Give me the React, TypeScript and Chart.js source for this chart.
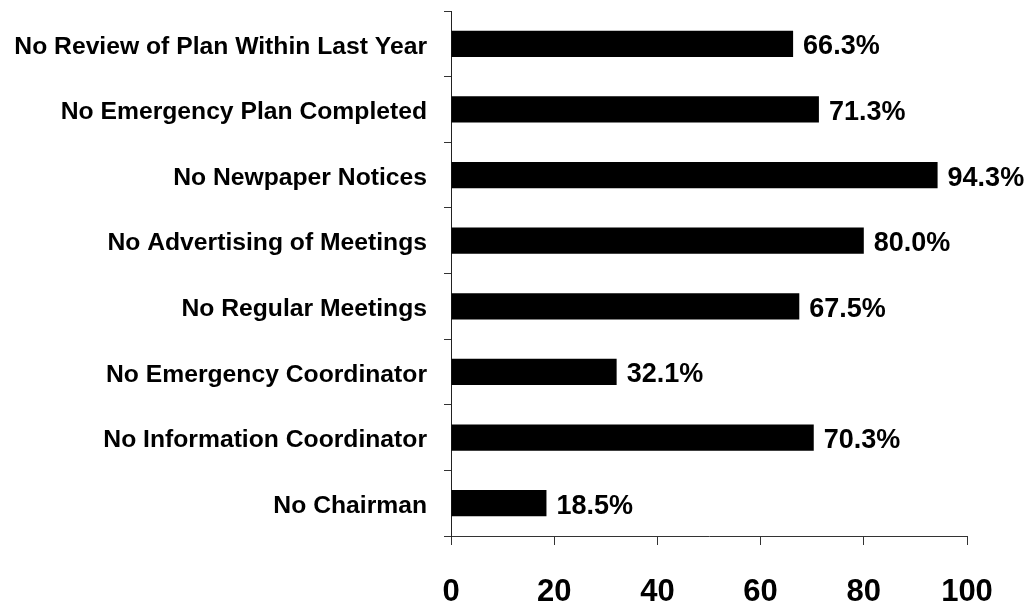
import React, { useEffect, useRef } from "react";
import { Chart, registerables } from "chart.js";

Chart.register(...registerables);

const categories: string[] = [
  "No Review of Plan Within Last Year",
  "No Emergency Plan Completed",
  "No Newpaper Notices",
  "No Advertising of Meetings",
  "No Regular Meetings",
  "No Emergency Coordinator",
  "No Information Coordinator",
  "No Chairman",
];

const percentValues: number[] = [66.3, 71.3, 94.3, 80.0, 67.5, 32.1, 70.3, 18.5];

const xTickValues: number[] = [0, 20, 40, 60, 80, 100];

const FONT = '"Liberation Sans", Arial, Helvetica, sans-serif';

const valueLabelPlugin = {
  id: "valueLabels",
  afterDatasetsDraw(chart: any) {
    const ctx = chart.ctx;
    const meta = chart.getDatasetMeta(0);
    ctx.save();
    ctx.font = `bold 27px ${FONT}`;
    ctx.fillStyle = "#000";
    ctx.textAlign = "left";
    ctx.textBaseline = "middle";
    meta.data.forEach((bar: any, i: number) => {
      const v = chart.data.datasets[0].data[i] as number;
      ctx.fillText(v.toFixed(1) + "%", bar.x + 10, bar.y + 3);
    });
    ctx.restore();
  },
};

export default function App() {
  const canvasRef = useRef<HTMLCanvasElement | null>(null);

  useEffect(() => {
    if (!canvasRef.current) return;
    const chart = new Chart(canvasRef.current, {
      type: "bar",
      data: {
        labels: categories,
        datasets: [
          {
            data: percentValues,
            backgroundColor: "#000",
            borderWidth: 0,
            categoryPercentage: 1,
            barPercentage: 0.4,
          },
        ],
      },
      options: {
        indexAxis: "y",
        responsive: false,
        animation: false,
        layout: { padding: { top: 11, right: 61, left: 0, bottom: 0 } },
        plugins: {
          legend: { display: false },
          tooltip: { enabled: false },
        },
        scales: {
          x: {
            min: 0,
            max: 100,
            afterFit: (scale: any) => {
              scale.height = 69;
              scale.paddingLeft = 0;
              scale.paddingRight = 0;
            },
            afterBuildTicks: (scale: any) => {
              scale.ticks = xTickValues.map((v) => ({ value: v }));
            },
            grid: {
              drawOnChartArea: false,
              drawTicks: true,
              tickLength: 9,
              color: "#333",
            },
            border: { display: true, color: "#333", width: 1 },
            ticks: {
              color: "#000",
              padding: 29,
              font: { family: FONT, size: 31, weight: "bold" },
            },
          },
          y: {
            afterFit: (scale: any) => {
              scale.width = 451;
              scale.paddingTop = 0;
              scale.paddingBottom = 0;
            },
            grid: {
              offset: true,
              drawOnChartArea: false,
              drawTicks: true,
              tickLength: 7,
              color: "#333",
            },
            border: { display: true, color: "#222", width: 1 },
            ticks: {
              color: "#000",
              padding: 17,
              labelOffset: 3,
              font: { family: FONT, size: 24.7, weight: "bold" },
            },
          },
        },
      },
      plugins: [valueLabelPlugin],
    });
    return () => chart.destroy();
  }, []);

  return (
    <div style={{ position: "absolute", left: 0, top: 0, width: 1028, height: 605, background: "#fff" }}>
      <canvas ref={canvasRef} width={1028} height={605} style={{ display: "block" }} />
    </div>
  );
}
